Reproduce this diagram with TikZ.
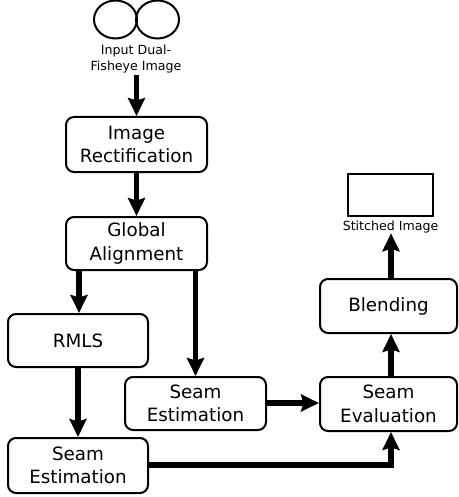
\documentclass[tikz,border=0pt]{standalone}
\usepackage{fontspec}
\setmainfont{DejaVu Sans}
\usetikzlibrary{arrows.meta,shapes.geometric}
\tikzset{
  procbox/.style={draw, line width=2pt, rounded corners=8pt, align=center, inner sep=0pt,
    font=\fontsize{18.3}{23.5}\selectfont},
  smalltext/.style={align=center, inner sep=0pt, font=\fontsize{12.6}{16}\selectfont},
  flow/.style={line width=5.5pt, -{Stealth[length=18pt,width=17pt,inset=2.5pt]}},
  lens/.style={draw, line width=2pt, ellipse, minimum width=43pt, minimum height=38pt, inner sep=0pt},
}
\begin{document}
\begin{tikzpicture}[x=1pt,y=-1pt]
\useasboundingbox (0,0) rectangle (458,497);
% input fisheye circles
\node[lens] (cL) at (115.5,19.5) {};
\node[lens] (cR) at (157.5,19.5) {};
\node[smalltext] (inp) at (136,59) {Input Dual-\\Fisheye Image};
\coordinate (inpb) at (136.5,75);
% boxes
\node[procbox, minimum width=141pt, minimum height=55pt] (rect) at (136.5,144.5) {Image\\Rectification};
\node[procbox, minimum width=141pt, minimum height=53pt] (glob) at (136.5,243.5) {Global\\Alignment};
\node[procbox, minimum width=140pt, minimum height=53pt] (rmls) at (78,340.5) {RMLS};
\node[procbox, minimum width=140pt, minimum height=55pt] (seamB) at (78,465.5) {Seam\\Estimation};
\node[procbox, minimum width=141pt, minimum height=53pt] (seamA) at (195.5,403.5) {Seam\\Estimation};
\node[procbox, minimum width=137pt, minimum height=54pt] (eval) at (388.5,404) {Seam\\Evaluation};
\node[procbox, minimum width=137pt, minimum height=54pt] (blend) at (388.5,306) {Blending};
% output
\node[draw, line width=2pt, minimum width=85pt, minimum height=42pt, inner sep=0pt] (out) at (390.5,195) {};
\node[smalltext] (outl) at (390.5,227) {Stitched Image};
% connectors
\draw[flow] (inpb) -- (rect.north);
\draw[flow] (rect) -- (glob);
\draw[flow] ([xshift=1pt]glob.south -| rmls.north) -- ([xshift=1pt]rmls.north);
\draw[flow] (glob.south -| seamA.north) -- (seamA.north);
\draw[flow] (rmls) -- (seamB);
\draw[flow] (seamA.east |- 0,403) -- (eval.west |- 0,403);
\draw[flow] (seamB.east |- 0,465) -| ([xshift=2.5pt]eval.south);
\draw[flow] ([xshift=2.5pt]eval.north) -- ([xshift=2.5pt]blend.south);
\draw[flow] ([xshift=2.5pt]blend.north) -- ([xshift=0.5pt]outl.south);
\end{tikzpicture}
\end{document}
